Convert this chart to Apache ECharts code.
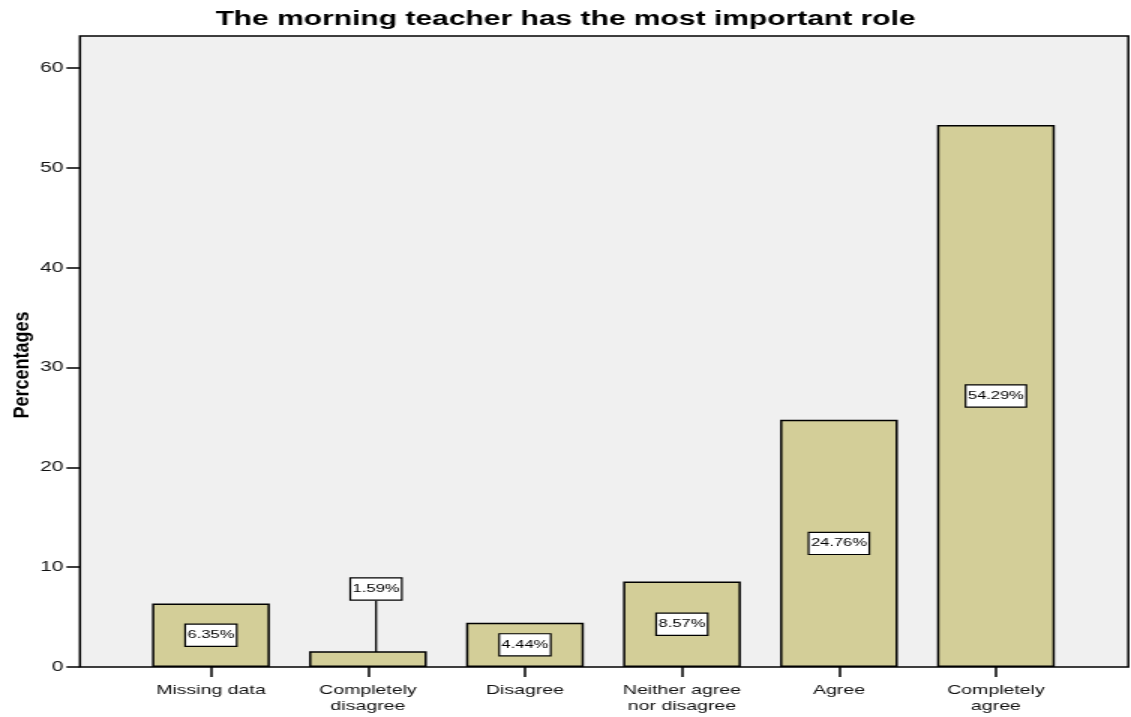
<!DOCTYPE html>
<html>
<head>
<meta charset="utf-8">
<title>The morning teacher has the most important role</title>
<script src="https://cdn.jsdelivr.net/npm/echarts@6/dist/echarts.min.js"></script>
<style>
  html, body { margin: 0; padding: 0; background: #fff; overflow: hidden; }
  /* the original picture is stretched sideways, so draw narrow and scale */
  #chart { width: 754px; height: 717px; transform: scaleX(1.5); transform-origin: 0 0; }
</style>
</head>
<body>
<div id="chart"></div>
<script>
var categories = ['Missing data', 'Completely\ndisagree', 'Disagree', 'Neither agree\nnor disagree', 'Agree', 'Completely\nagree'];
var percentages = [6.35, 1.59, 4.44, 8.57, 24.76, 54.29];
var yTicks = [0, 10, 20, 30, 40, 50, 60];
var calloutIndex = 1;

(function () {
  'use strict';

  var FONT = '"Liberation Sans", Arial, sans-serif';
  var myChart = echarts.init(document.getElementById('chart'));

  function barData() {
    return percentages.map(function (v, i) {
      var item = { value: v };
      if (i === calloutIndex) {
        item.labelLine = { show: true, lineStyle: { color: '#000', width: 1.3 } };
      }
      return item;
    });
  }

  var option = {
    animation: false,
    backgroundColor: '#fff',
    title: {
      text: 'The morning teacher has the most important role',
      left: 'center',
      top: 4,
      textStyle: { fontFamily: FONT, fontSize: 20, fontWeight: 'bold', color: '#000' }
    },
    graphic: [{
      type: 'text',
      x: 14.5,
      y: 365,
      rotation: Math.PI / 2,
      scaleY: 0.85,
      style: {
        text: 'Percentages',
        fontFamily: FONT,
        fontSize: 18,
        fontWeight: 'bold',
        fill: '#000',
        align: 'center',
        verticalAlign: 'middle'
      }
    }],
    grid: [
      // plot box
      { left: 53.3, right: 1.8, top: 36, bottom: 50, show: true,
        backgroundColor: '#f0f0f0', borderColor: '#000', borderWidth: 1.5 },
      // bars
      { left: 88.3, right: 37.7, top: 68, bottom: 50 }
    ],
    xAxis: [
      { gridIndex: 0, type: 'value', show: false },
      {
        gridIndex: 1,
        type: 'category',
        data: categories,
        axisLine: { show: false },
        axisTick: { show: true, alignWithLabel: true, length: 10, lineStyle: { color: '#000', width: 1.5 } },
        axisLabel: { fontFamily: FONT, fontSize: 13, color: '#111', lineHeight: 16, margin: 15 }
      }
    ],
    yAxis: [
      { gridIndex: 0, type: 'value', show: false },
      {
        gridIndex: 1,
        type: 'value',
        min: yTicks[0],
        max: yTicks[yTicks.length - 1],
        interval: yTicks[1] - yTicks[0],
        offset: 35,
        axisLine: { show: false },
        axisTick: { show: true, length: 9, lineStyle: { color: '#000', width: 1.5 } },
        axisLabel: { fontFamily: FONT, fontSize: 14, color: '#111', margin: 11 },
        splitLine: { show: false }
      }
    ],
    series: [{
      type: 'bar',
      xAxisIndex: 1,
      yAxisIndex: 1,
      barWidth: '75%',
      data: barData(),
      itemStyle: { color: '#d3ce98', borderColor: '#000', borderWidth: 1.5 },
      label: {
        show: true,
        position: 'inside',
        formatter: function (p) { return p.value.toFixed(2) + '%'; },
        fontFamily: FONT,
        fontSize: 11,
        lineHeight: 11,
        color: '#000',
        backgroundColor: '#fff',
        borderColor: '#000',
        borderWidth: 1.2,
        padding: [5, 1, 5, 1]
      },
      labelLayout: function (params) {
        if (params.dataIndex === calloutIndex) {
          return { dx: 5.4, dy: -70 };
        }
      }
    }]
  };

  myChart.setOption(option);
  window.onresize = myChart.resize;
})();
</script>
</body>
</html>
